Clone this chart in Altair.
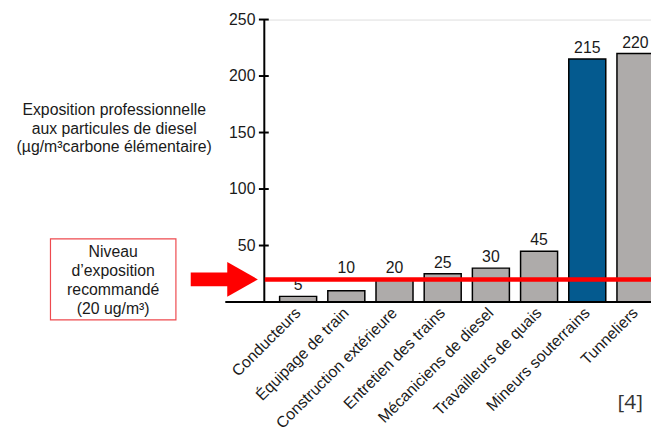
import altair as alt
import pandas as pd

categories = ["Conducteurs", "Équipage de train", "Construction extérieure",
              "Entretien des trains", "Mécaniciens de diesel", "Travailleurs de quais",
              "Mineurs souterrains", "Tunneliers"]
values = [5, 10, 20, 25, 30, 45, 215, 220]
highlight = ["non", "non", "non", "non", "non", "non", "oui", "non"]
y_ticks = [50, 100, 150, 200, 250]
reference_level = 20
y_title = ["Exposition professionnelle", "aux particules de diesel", "(µg/m³carbone élémentaire)"]
box_lines = ["Niveau", "d’exposition", "recommandé", "(20 ug/m³)"]
source_note = "[4]"

df = pd.DataFrame({"cat": categories, "val": values, "hl": highlight})

FONT = "Liberation Sans"
W, H = 392, 286

x_enc = alt.X("cat:N", sort=None, title=None,
              scale=alt.Scale(range=[16, 395], paddingInner=0.232, paddingOuter=0),
              axis=alt.Axis(labelAngle=-45, labelAlign="right", labelBaseline="middle",
                            labelPadding=8, labelFontSize=16, labelFont=FONT,
                            labelColor="#1a1a1a", domain=False, ticks=False))
y_scale = alt.Scale(domain=[0, 250], nice=False)

base = alt.Chart(df)

bars = base.mark_bar(stroke="black", strokeWidth=1.5).encode(
    x=x_enc,
    y=alt.Y("val:Q", scale=y_scale,
            axis=alt.Axis(values=y_ticks, ticks=False, grid=False, domain=True,
                          domainColor="black", domainWidth=2, labelPadding=9,
                          labelFontSize=16, labelFont=FONT, labelColor="#1a1a1a",
                          title=y_title, titleAngle=0, titleX=-152, titleY=91,
                          titleAlign="center", titleBaseline="middle",
                          titleFont=FONT, titleFontSize=16, titleFontWeight="normal",
                          titleColor="#1a1a1a", titleLineHeight=19)),
    color=alt.Color("hl:N", scale=alt.Scale(domain=["non", "oui"],
                                           range=["#AEABAA", "#045A8F"]), legend=None),
)

# labels that would cross the reference line are lifted just above it
labels = base.transform_calculate(
    lab_y=f"datum.val > 8 && datum.val < {reference_level} ? {reference_level} : datum.val"
).mark_text(baseline="bottom", dy=-3, fontSize=16, font=FONT, color="#1a1a1a").encode(
    x=alt.X("cat:N", sort=None),
    y=alt.Y("lab_y:Q"),
    text=alt.Text("val:Q"),
)

ref_df = pd.DataFrame({"v": [reference_level]})
red_line = alt.Chart(ref_df).mark_rule(color="#FF0000", strokeWidth=4.5).encode(
    y="v:Q", x=alt.value(1), x2=alt.value(400))

zero_df = pd.DataFrame({"v": [0]})
x_axis_line = alt.Chart(zero_df).mark_rule(color="black", strokeWidth=2).encode(
    y="v:Q", x=alt.value(-39), x2=alt.value(400))

tick_df = pd.DataFrame({"t": y_ticks})
ticks = alt.Chart(tick_df).mark_rule(color="black", strokeWidth=2).encode(
    y="t:Q", x=alt.value(-5), x2=alt.value(5))

arrow_shaft = alt.Chart(ref_df).mark_rule(color="#FF0000", strokeWidth=14,
                                          strokeCap="butt").encode(
    y="v:Q", x=alt.value(-74), x2=alt.value(-35))
arrow_head = alt.Chart(ref_df).mark_point(
    shape="M-1,-1.13L1,0L-1,1.13Z", filled=True, color="#FF0000", opacity=1,
    size=961).encode(y="v:Q", x=alt.value(-21.5))

one = alt.Data(values=[{"k": 1}])
box = alt.Chart(one).mark_rect(fill="white", stroke="#EE4A4F", strokeWidth=1.2).encode(
    x=alt.value(-216), x2=alt.value(-89), y=alt.value(222), y2=alt.value(304))
box_text = alt.Chart(one).mark_text(text=box_lines, align="center", baseline="middle",
                                    fontSize=16, font=FONT, lineHeight=19.5,
                                    color="#1a1a1a").encode(
    x=alt.value(-152.5), y=alt.value(235))

note = alt.Chart(one).mark_text(text=source_note, align="center", baseline="middle",
                                fontSize=21, font="Open Sans", color="#333333").encode(
    x=alt.value(371), y=alt.value(388))

chart = alt.layer(bars, labels, x_axis_line, ticks, red_line, arrow_shaft, arrow_head,
                  box, box_text, note).properties(
    width=W, height=H, autosize="none",
    padding={"left": 259, "top": 9, "right": 0, "bottom": 136},
).configure_view(stroke=None).configure(background="white")

chart.save("out.html", embed_options={"renderer": "svg", "actions": False})
